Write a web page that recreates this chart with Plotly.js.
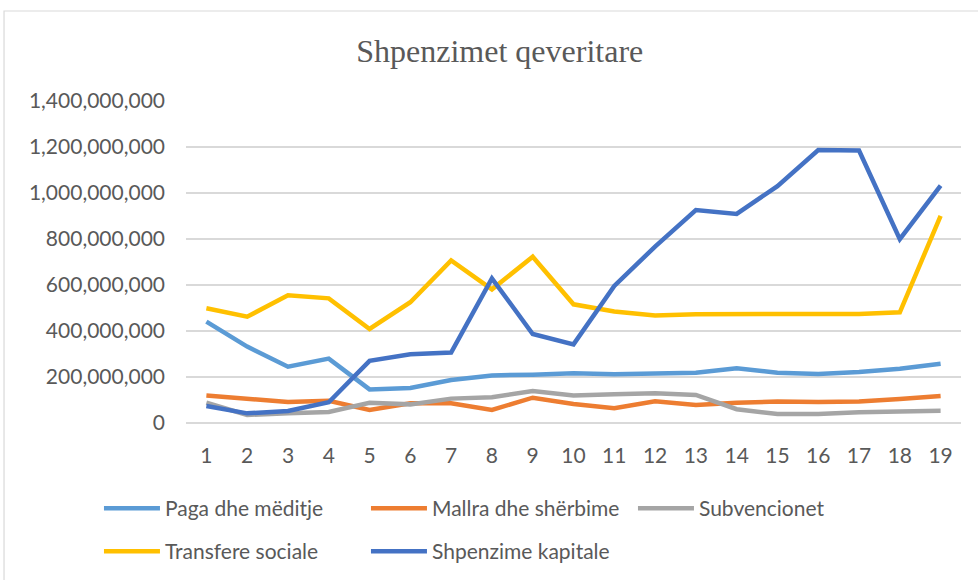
<!DOCTYPE html>
<html>
<head>
<meta charset="utf-8">
<script src="https://cdn.plot.ly/plotly-3.0.1.min.js"></script>
<style>html,body{margin:0;padding:0;background:#fff;}#chart{width:978px;height:580px;}</style>
</head>
<body>
<div id="chart"></div>
<script>
const categories = ['1','2','3','4','5','6','7','8','9','10','11','12','13','14','15','16','17','18','19'];
const pagaDheMeditje = [441e6, 332e6, 245e6, 280e6, 146e6, 152e6, 187e6, 207e6, 210e6, 216e6, 212e6, 216e6, 219e6, 238e6, 219e6, 213e6, 222e6, 236e6, 258e6];
const mallraDheSherbime = [120e6, 107e6, 91e6, 97e6, 57e6, 86e6, 86e6, 57e6, 110e6, 83e6, 64e6, 94e6, 78e6, 88e6, 93e6, 91e6, 93e6, 104e6, 117e6];
const subvencionet = [88e6, 35e6, 42e6, 48e6, 88e6, 81e6, 106e6, 112e6, 139e6, 120e6, 125e6, 129e6, 122e6, 60e6, 39e6, 39e6, 47e6, 51e6, 53e6];
const transfereSociale = [499e6, 462e6, 555e6, 542e6, 409e6, 525e6, 707e6, 581e6, 723e6, 516e6, 485e6, 467e6, 473e6, 475e6, 474e6, 474e6, 474e6, 481e6, 901e6];
const shpenzimeKapitale = [74e6, 42e6, 52e6, 90e6, 270e6, 299e6, 306e6, 629e6, 387e6, 342e6, 596e6, 767e6, 926e6, 909e6, 1030e6, 1187e6, 1185e6, 799e6, 1032e6];
const yTickValues = [0, 200e6, 400e6, 600e6, 800e6, 1000e6, 1200e6, 1400e6];
const seriesNames = ['Paga dhe mëditje', 'Mallra dhe shërbime', 'Subvencionet', 'Transfere sociale', 'Shpenzime kapitale'];

const colors = ['#5B9BD5', '#ED7D31', '#A5A5A5', '#FFC000', '#4472C4'];
const allSeries = [pagaDheMeditje, mallraDheSherbime, subvencionet, transfereSociale, shpenzimeKapitale];
const xIdx = categories.map(c => Number(c));

const traces = allSeries.map((vals, i) => ({
  type: 'scatter',
  mode: 'lines',
  x: xIdx,
  y: vals,
  name: seriesNames[i],
  line: {color: colors[i], width: 4.5},
  legend: i < 3 ? 'legend' : 'legend2',
  hoverinfo: 'x+y+name'
}));

const textColor = '#595959';
const fontFam = 'Lato, "Liberation Sans", Arial, sans-serif';

const legendCommon = {
  orientation: 'h',
  xref: 'paper', yref: 'paper',
  x: -0.1123, xanchor: 'left',
  yanchor: 'middle',
  font: {family: fontFam, size: 21, color: textColor},
  entrywidth: 196, entrywidthmode: 'pixels',
  itemwidth: 56,
  bgcolor: 'rgba(0,0,0,0)',
  traceorder: 'normal'
};

const layout = {
  width: 978, height: 580,
  margin: {l: 186, r: 17, t: 101, b: 157, autoexpand: false},
  paper_bgcolor: '#ffffff',
  plot_bgcolor: '#ffffff',
  title: {
    text: 'Shpenzimet qeveritare',
    font: {family: '"Liberation Serif", "Times New Roman", serif', size: 32, color: textColor},
    x: 0.511, xref: 'container', xanchor: 'center',
    y: 50, yref: 'container', yanchor: 'middle'
  },
  xaxis: {
    range: [0.5, 19.5],
    tickmode: 'array',
    tickvals: xIdx,
    ticktext: categories,
    showgrid: false,
    zeroline: false,
    showline: false,
    ticks: '',
    ticklabelstandoff: 18,
    tickfont: {family: fontFam, size: 21, color: textColor},
    fixedrange: true
  },
  yaxis: {
    range: [0, 1400e6],
    tickmode: 'array',
    tickvals: yTickValues,
    tickformat: ',d',
    showgrid: true,
    gridcolor: '#D9D9D9',
    gridwidth: 1.5,
    zeroline: true,
    zerolinecolor: '#D9D9D9',
    zerolinewidth: 1.5,
    showline: false,
    ticks: '',
    ticklabelstandoff: 20,
    tickfont: {family: fontFam, size: 21, color: textColor},
    fixedrange: true
  },
  showlegend: true,
  legend: Object.assign({}, legendCommon, {y: -0.2655}),
  legend2: Object.assign({}, legendCommon, {y: -0.399}),
  shapes: [{
    type: 'rect', xref: 'paper', yref: 'paper',
    x0: -0.2348, x1: 1.2, y0: -0.7, y1: 1.2795,
    line: {color: '#D9D9D9', width: 1.2},
    fillcolor: 'rgba(0,0,0,0)',
    layer: 'below'
  }]
};

Plotly.newPlot('chart', traces, layout, {displayModeBar: false, responsive: false});
</script>
</body>
</html>
